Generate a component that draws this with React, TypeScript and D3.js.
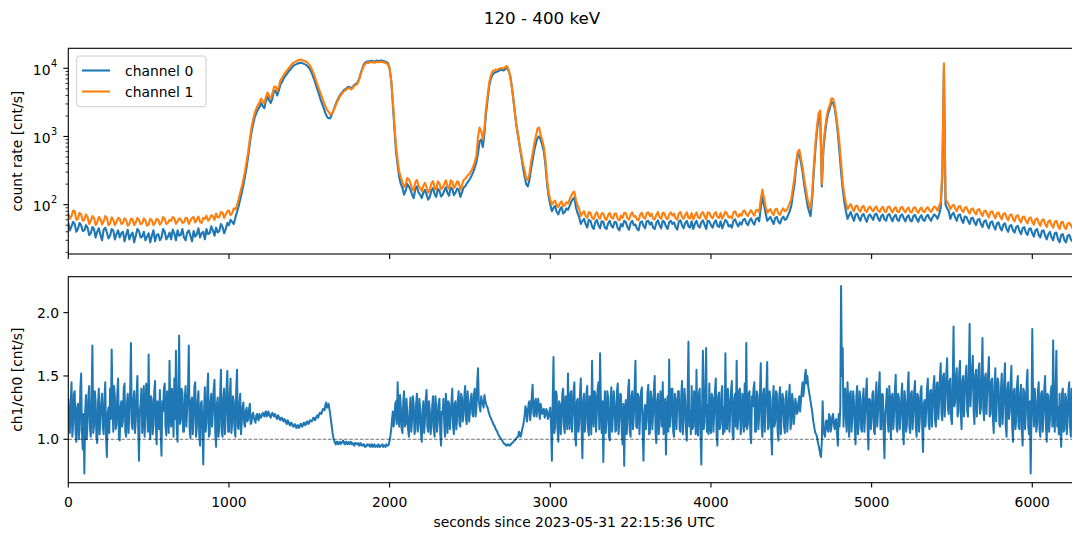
import React from 'react';
import * as d3 from 'd3';

const TITLE = '120 - 400 keV';
const X_LABEL = 'seconds since 2023-05-31 22:15:36 UTC';
const Y1_LABEL = 'count rate [cnt/s]';
const Y2_LABEL = 'ch1/ch0 [cnt/s]';
const SERIES_NAMES = ['channel 0', 'channel 1'];

// rate samples: main series at t = 0, 20, 40, ...; *_MID series at t = 10, 30, 50, ...
const RATE_STEP = 20;
// ratio samples: main at t = 0, 10, 20, ...; RATIO_MID at t = 5, 15, 25, ...
const RATIO_STEP = 10;

const X_TICKS = [0, 1000, 2000, 3000, 4000, 5000, 6000];
const RATE_TICKS = [100, 1000, 10000];
const RATE_TICK_EXP = ['2', '3', '4'];
const RATIO_TICKS = [1.0, 1.5, 2.0];

const CH0 = [
  55, 48, 52, 44, 50, 42, 46, 38, 44, 40,
  36, 43, 39, 35, 42, 37, 33, 40, 36, 31,
  39, 35, 41, 34, 30, 38, 35, 29, 37, 33,
  40, 34, 31, 38, 42, 36, 33, 39, 35, 41,
  37, 33, 40, 44, 38, 42, 46, 41, 47, 44,
  50,
  56, 65, 95, 150, 260, 520, 1150, 1900, 2500, 3100,
  2600, 3800, 3100, 4600, 4000, 5800, 7000, 8200, 9500, 10800,
  11500, 12000, 11800, 11200, 10000, 8000, 5800, 4200, 3000, 2200,
  1850, 2100, 2800, 3600, 4300, 4900, 5300, 5100, 5700, 6200,
  8400, 11500, 12600, 12800, 12700, 13000, 12900, 12800, 12400, 10000,
  3000, 600, 250, 175, 160, 185, 140, 170, 150, 125,
  165, 118, 160, 142, 172, 132, 160, 148, 178, 138,
  172, 130, 178, 205, 240, 300, 420, 850, 700, 2200,
  5500, 8000, 8800, 9200, 9400, 9800, 9200, 5500, 2200, 1000,
  500, 260, 185, 330, 620, 950, 900, 600, 200, 100,
  90, 78, 85, 74, 88, 95, 120, 90, 65, 58,
  52, 60, 48, 55, 50, 57, 46, 53, 49, 56,
  45, 52, 58, 47, 54, 50, 44, 55, 49, 57,
  51, 46, 54, 50, 58, 48, 55, 52, 47, 56,
  50, 54, 48, 57, 52, 49, 55, 51, 58, 50,
  54, 49, 57, 52, 56, 50, 58, 53, 55, 60,
  54, 58, 55, 61, 57, 130, 75, 62, 58, 64,
  56, 62, 60, 70, 95,
  200, 520, 420, 200, 100, 68, 300, 1200, 2100, 650,
  1700, 2600, 3100, 1800, 600, 170, 80, 70, 66, 72,
  64, 70, 63, 68, 65,
  72, 63, 68, 61, 70, 64, 67, 60, 69, 63,
  66, 59, 68, 62, 65, 60, 67, 63, 66, 68,
  72, 250,
  100, 80, 72, 65, 70, 60, 67, 58, 63, 55,
  60, 52, 57, 50, 55, 48, 53, 46, 51, 44,
  49, 42, 47, 41, 45, 39, 44, 38, 42, 36,
  41, 35, 37, 33, 38, 31, 36, 30, 35, 31,
  34,
];

const CH0_MID = [
  42, 56, 40, 54, 41, 50, 36, 47, 33, 45,
  30, 46, 32, 44, 31, 42, 38, 29, 43, 36,
  28, 44, 33, 40, 34, 28, 42, 36, 30, 44,
  31, 39, 43, 30, 35, 44, 30, 42, 29, 34,
  45, 38, 31, 37, 48, 35, 39, 52, 38, 54,
  60, 52, 78, 120, 195, 360, 800, 1500, 2200, 2700,
  2800, 3300, 3400, 3600, 4700, 4700, 6300, 7700, 8900, 10200,
  11200, 11800, 12100, 11500, 10700, 9100, 6900, 4900, 3500, 2600,
  1950, 1850, 2400, 3200, 4000, 4600, 5000, 5300, 5300, 5900,
  7000, 10000, 12200, 12500, 12900, 12600, 12800, 13000, 12600, 11800,
  6500, 1300, 380, 200, 140, 200, 165, 125, 185, 140,
  150, 140, 130, 175, 130, 160, 140, 180, 135, 170,
  150, 165, 150, 185, 220, 265, 350, 560, 900, 1100,
  3500, 7000, 8500, 8900, 9500, 9300, 10200, 7800, 3600, 1400,
  700, 350, 200, 230, 450, 780, 1000, 750, 380, 130,
  80, 96, 72, 92, 78, 84, 110, 128, 75, 52,
  62, 46, 58, 44, 60, 45, 56, 44, 58, 46,
  55, 42, 48, 56, 43, 58, 51, 42, 57, 45,
  58, 55, 44, 59, 45, 56, 44, 58, 55, 43,
  59, 45, 58, 46, 44, 58, 46, 59, 44, 57,
  46, 59, 47, 45, 60, 48, 46, 61, 48, 51,
  62, 50, 63, 51, 64, 90, 100, 58, 66, 52,
  66, 53, 67, 62, 80,
  140, 350, 560, 300, 140, 80, 120, 650, 1900, 185,
  1100, 2200, 3200, 2600, 1100, 300, 110, 62, 78, 58,
  74, 58, 73, 56, 72,
  60, 74, 58, 72, 58, 73, 57, 71, 58, 72,
  57, 70, 57, 71, 56, 70, 58, 71, 58, 72,
  62, 90, 10500,
  88, 62, 76, 58, 72, 54, 66, 52, 64, 50,
  62, 47, 59, 45, 57, 43, 55, 42, 53, 40,
  50, 39, 49, 37, 47, 36, 45, 34, 44, 33,
  42, 31, 40, 30, 39, 28, 37, 28, 36, 29,
];

const CH1 = [
  75, 68, 80, 62, 72, 60, 66, 58, 64, 55,
  62, 57, 64, 53, 60, 56, 62, 54, 59, 52,
  61, 55, 60, 53, 58, 51, 59, 54, 60, 55,
  62, 54, 58, 63, 57, 61, 55, 63, 58, 66,
  60, 56, 64, 69, 62, 68, 74, 66, 76, 72,
  82,
  75, 85, 120, 185, 310, 610, 1340, 2200, 2900, 3600,
  3050, 4400, 3600, 5300, 4600, 6600, 7900, 9200, 10600, 12000,
  12700, 13300, 13100, 12500, 11300, 9200, 6800, 5000, 3700, 2800,
  2300, 2150, 2700, 3450, 4150, 4700, 5100, 4900, 5500, 5950,
  8100, 11000, 12100, 12300, 12200, 12500, 12400, 12300, 11900, 9700,
  3300, 700, 300, 215, 200, 235, 172, 215, 188, 158,
  208, 150, 205, 178, 220, 168, 200, 186, 228, 175,
  220, 165, 228, 255, 290, 360, 520, 1350, 900, 2600,
  6200, 9000, 9600, 9800, 10000, 10500, 9400, 5400, 2150, 1050,
  540, 320, 230, 420, 780, 1300, 1050, 700, 230, 118,
  110, 98, 105, 95, 108, 118, 150, 115, 85, 75,
  68, 78, 64, 72, 66, 75, 62, 70, 65, 74,
  61, 69, 76, 63, 71, 67, 60, 72, 65, 75,
  68, 62, 71, 66, 76, 64, 72, 69, 63, 74,
  66, 71, 64, 75, 69, 65, 73, 68, 77, 67,
  72, 66, 75, 70, 74, 67, 77, 71, 73, 80,
  72, 77, 74, 82, 78, 166, 95, 82, 76, 85,
  74, 82, 80, 92, 120,
  250, 600, 480, 240, 125, 88, 360, 1400, 2400, 760,
  1950, 2900, 3600, 2000, 800, 210, 105, 95, 88, 95,
  84, 92, 82, 90, 85,
  90, 82, 88, 80, 92, 84, 87, 79, 90, 83,
  86, 78, 89, 82, 85, 80, 88, 83, 86, 90,
  95, 320,
  120, 100, 95, 88, 93, 84, 90, 81, 86, 78,
  84, 75, 80, 72, 78, 70, 75, 67, 73, 65,
  70, 62, 68, 60, 66, 58, 63, 56, 61, 54,
  59, 52, 57, 50, 56, 49, 55, 47, 53, 50,
  52,
];

const CH1_MID = [
  62, 82, 60, 76, 58, 72, 52, 68, 50, 66,
  51, 68, 50, 65, 50, 64, 52, 63, 49, 62,
  50, 64, 52, 63, 49, 62, 50, 62, 51, 66,
  52, 60, 66, 52, 63, 54, 64, 52, 64, 55,
  67, 54, 62, 58, 70, 60, 65, 78, 64, 80,
  70, 88, 98, 150, 235, 430, 930, 1750, 2550, 3150,
  3250, 3800, 3950, 4200, 5400, 5400, 7200, 8600, 9900, 11400,
  12400, 13100, 13400, 12800, 12000, 10300, 8000, 5800, 4300, 3200,
  2450, 2100, 2350, 3100, 3850, 4450, 4850, 5100, 5100, 5700,
  6800, 9600, 11700, 12000, 12400, 12100, 12300, 12500, 12100, 11300,
  6600, 1500, 450, 250, 180, 245, 205, 160, 230, 175,
  190, 180, 165, 222, 165, 205, 178, 228, 170, 218,
  190, 212, 192, 240, 275, 320, 420, 1000, 1200, 1300,
  4000, 7800, 9300, 9500, 10000, 9900, 10800, 7800, 3500, 1400,
  720, 400, 240, 280, 560, 1000, 1350, 880, 450, 150,
  100, 115, 92, 112, 98, 104, 135, 155, 98, 68,
  80, 64, 76, 61, 78, 62, 75, 60, 76, 62,
  74, 59, 64, 75, 60, 77, 68, 59, 76, 62,
  77, 74, 61, 78, 62, 75, 61, 77, 74, 60,
  78, 62, 77, 63, 61, 77, 63, 78, 61, 76,
  63, 78, 64, 62, 79, 65, 63, 80, 66, 69,
  82, 68, 83, 69, 84, 120, 125, 76, 86, 70,
  87, 71, 88, 82, 105,
  175, 420, 640, 360, 175, 100, 145, 780, 2200, 200,
  1300, 2500, 3600, 2900, 1300, 420, 140, 86, 102, 80,
  97, 79, 96, 78, 94,
  80, 94, 78, 93, 78, 94, 77, 92, 78, 93,
  77, 91, 77, 92, 76, 91, 78, 92, 78, 94,
  82, 110, 11800,
  110, 86, 100, 80, 96, 78, 92, 74, 88, 72,
  86, 68, 82, 65, 80, 63, 77, 61, 75, 59,
  72, 57, 70, 55, 67, 53, 65, 51, 63, 49,
  61, 47, 59, 46, 58, 44, 56, 44, 54, 45,
];

const RATIO = [
  1.32, 1.05, 1.45, 1.12, 1.38, 0.98, 1.28, 1.08, 1.52, 0.92, 0.73, 1.35, 1.15, 1.42, 1.02, 1.74, 1.10, 1.30, 0.97, 1.40,
  1.18, 1.36, 1.04, 1.45, 0.86, 1.25, 1.40, 1.71, 1.06, 1.33, 1.12, 1.48, 0.99, 1.30, 1.15, 1.44, 1.02, 1.36, 1.20, 1.76,
  1.08, 1.38, 1.14, 1.50, 0.83, 1.28, 1.05, 1.42, 1.18, 1.35, 1.67, 1.00, 1.31, 1.12, 1.46, 0.96, 1.25, 1.39, 0.87, 1.22,
  1.44, 1.03, 1.34, 1.62, 1.10, 1.28, 1.48, 1.70, 0.98, 1.82, 1.15, 1.37, 1.06, 1.42, 1.24, 1.74, 1.01, 1.33, 1.16, 1.45,
  1.09, 1.38, 0.95, 1.30, 0.80, 1.41, 1.13, 1.52, 1.04, 1.36, 1.22, 1.47, 0.94, 1.33, 1.10, 1.55, 1.02, 1.40, 1.18, 1.54,
  1.06, 1.48, 1.12, 1.30, 1.02, 1.55, 1.08, 1.36, 1.14, 1.29, 1.10, 1.25, 1.16, 1.28, 1.13, 1.21, 1.15, 1.19, 1.16, 1.20,
  1.17, 1.21, 1.18, 1.22, 1.19, 1.20, 1.17, 1.21, 1.18, 1.19, 1.16, 1.18, 1.15, 1.17, 1.14, 1.15, 1.12, 1.14, 1.11, 1.13,
  1.10, 1.12, 1.09, 1.11, 1.10, 1.12, 1.11, 1.13, 1.12, 1.14, 1.13, 1.15, 1.15, 1.17, 1.16, 1.19, 1.19, 1.21, 1.22, 1.24,
  1.27, 1.25, 1.28, 1.20, 1.10, 1.01, 0.97, 0.98, 0.96, 0.98, 0.97, 0.99, 0.96, 0.98, 0.97, 0.96, 0.98, 0.97, 0.95, 0.97,
  0.96, 0.95, 0.97, 0.95, 0.96, 0.94, 0.96, 0.95, 0.94, 0.96, 0.95, 0.94, 0.95, 0.96, 0.94, 0.95, 0.94, 0.95, 0.96, 0.95,
  0.99, 1.08, 1.22, 1.15, 1.30, 1.45, 1.10, 1.25, 1.05, 1.38, 1.12, 1.20, 1.02, 1.33, 1.16, 1.27, 1.08, 1.36, 1.12, 1.24,
  0.98, 1.30, 1.15, 1.39, 1.06, 1.22, 1.10, 1.34, 1.02, 1.26, 1.14, 1.32, 0.95, 1.20, 1.12, 1.36, 1.05, 1.28, 1.17, 1.40,
  1.04, 1.30, 1.16, 1.38, 1.10, 1.33, 1.20, 1.42, 1.12, 1.29, 1.22, 1.36, 1.18, 1.40, 1.24, 1.56, 1.26, 1.34, 1.28, 1.35,
  1.28, 1.25, 1.20, 1.17, 1.14, 1.11, 1.08, 1.06, 1.03, 1.01, 0.99, 0.97, 0.96, 0.95, 0.96, 0.95, 0.97, 0.98, 0.99, 1.01,
  1.02, 1.05, 1.04, 1.10, 1.18, 1.24, 1.20, 1.30, 1.22, 1.43, 1.18, 1.32, 1.25, 1.22, 1.28, 1.20, 1.24, 1.19, 1.22, 1.18,
  1.25, 0.83, 1.65, 1.10, 1.35, 0.98, 1.28, 1.15, 1.40, 1.05, 1.30, 1.52, 1.08, 1.38, 1.20, 1.45, 0.95, 1.32, 1.12, 1.48,
  0.85, 1.36, 1.14, 1.42, 1.03, 1.30, 1.62, 1.10, 1.36, 1.22, 1.45, 1.68, 1.05, 0.82, 1.38, 1.15, 1.33, 0.99, 1.41, 1.20,
  1.28, 1.07, 1.44, 1.16, 1.35, 0.96, 0.79, 1.31, 1.12, 1.47, 1.02, 1.38, 1.18, 1.62, 1.09, 1.34, 1.22, 1.41, 0.83, 1.27,
  1.15, 1.43, 1.05, 1.32, 1.20, 1.50, 0.97, 1.36, 1.12, 1.29, 1.45, 1.08, 0.88, 1.34, 1.63, 1.18, 1.40, 1.02, 1.31, 1.24,
  1.38, 1.06, 1.46, 1.17, 1.30, 0.99, 1.77, 1.22, 1.42, 1.10, 1.35, 1.55, 1.03, 1.40, 0.80, 1.70, 1.14, 1.72, 1.27, 1.44,
  1.05, 1.33, 1.19, 1.48, 0.95, 1.37, 1.12, 1.42, 1.25, 1.68, 1.08, 1.31, 1.20, 1.46, 1.00, 1.36, 1.62, 1.15, 1.40, 1.09,
  1.30, 1.44, 1.76, 1.12, 1.38, 0.97, 1.26, 1.45, 1.06, 1.35, 1.18, 1.60, 1.02, 1.40, 1.24, 1.61, 1.10, 1.33, 0.88, 1.42,
  1.14, 1.36, 0.99, 1.41, 1.20, 1.32, 1.05, 1.38, 1.16, 1.43, 1.12, 1.30, 1.18, 1.28, 1.22, 1.34, 1.30, 1.45, 1.40, 1.55,
  1.50, 1.38, 1.30, 1.22, 1.12, 1.05, 1.02, 0.95, 0.88, 0.98, 1.10, 1.02, 1.15, 1.06, 1.18, 1.10, 1.20, 1.08, 1.16, 0.95,
  1.10, 2.21, 1.72, 1.35, 1.15, 1.45, 1.02, 1.38, 1.18, 1.30, 0.96, 1.42, 1.12, 1.33, 1.06, 1.40, 1.20, 1.48, 0.92, 1.31,
  1.16, 1.38, 1.04, 1.45, 1.22, 1.53, 1.08, 1.35, 0.85, 1.28, 1.14, 1.42, 1.00, 1.36, 1.20, 1.51, 1.06, 1.32, 1.18, 1.44,
  0.96, 1.30, 1.12, 1.53, 1.05, 1.38, 1.20, 1.46, 1.02, 1.34, 1.16, 1.42, 0.90, 1.31, 1.22, 1.48, 1.08, 1.39, 1.25, 1.50,
  1.10, 1.45, 1.28, 1.60, 1.15, 1.52, 1.34, 1.64, 1.20, 1.48, 1.12, 1.89, 1.30, 1.56, 1.22, 1.62, 1.08, 1.50, 1.36, 1.58,
  1.18, 1.91, 1.40, 1.66, 1.12, 1.55, 1.30, 1.60, 1.24, 1.80, 1.15, 1.52, 1.38, 1.65, 1.20, 1.48, 1.05, 1.56, 1.32, 1.44,
  1.10, 1.52, 1.26, 1.60, 1.02, 1.45, 1.22, 1.58, 0.98, 1.40, 1.15, 1.50, 1.08, 1.43, 0.95, 1.37, 1.20, 1.55, 1.04, 0.73,
  1.87, 1.10, 1.30, 1.12, 1.45, 1.02, 1.38, 1.20, 1.50, 0.98, 1.34, 1.16, 1.42, 1.78, 1.06, 1.70, 1.25, 1.36, 0.94, 1.40,
  1.08, 1.33, 1.15, 1.45, 1.02, 1.28,
];

const RATIO_MID = [
  1.10, 1.30, 1.02, 1.36, 1.06, 1.25, 1.00, 1.40, 1.05, 1.20, 1.22, 1.00, 1.34, 1.08, 1.30, 1.05, 1.38, 1.02, 1.28, 1.04,
  1.28, 1.10, 1.32, 1.02, 1.20, 1.05, 1.16, 1.30, 1.42, 1.08, 1.36, 1.02, 1.26, 1.10, 1.40, 1.06, 1.28, 1.05, 1.38, 1.12,
  1.30, 1.05, 1.36, 1.10, 1.22, 1.40, 1.18, 1.02, 1.44, 1.06, 1.12, 1.34, 1.04, 1.38, 1.10, 1.30, 1.08, 1.06, 1.30, 1.40,
  1.10, 1.38, 1.05, 1.20, 1.40, 1.02, 1.16, 1.08, 1.36, 1.12, 1.40, 1.06, 1.32, 1.10, 1.38, 1.08, 1.30, 1.04, 1.42, 1.02,
  1.30, 1.04, 1.28, 1.08, 1.22, 1.06, 1.38, 1.02, 1.30, 1.10, 1.40, 1.04, 1.28, 1.02, 1.34, 1.06, 1.32, 1.04, 1.40, 1.06,
  1.36, 1.05, 1.34, 1.08, 1.38, 1.10, 1.28, 1.04, 1.26, 1.12, 1.22, 1.14, 1.24, 1.12, 1.19, 1.17, 1.13, 1.20, 1.15, 1.18,
  1.19, 1.20, 1.21, 1.18, 1.22, 1.18, 1.20, 1.19, 1.20, 1.17, 1.19, 1.16, 1.17, 1.15, 1.16, 1.13, 1.15, 1.12, 1.13, 1.11,
  1.11, 1.10, 1.11, 1.09, 1.12, 1.10, 1.13, 1.11, 1.14, 1.12, 1.15, 1.14, 1.17, 1.15, 1.18, 1.17, 1.21, 1.20, 1.24, 1.23,
  1.29, 1.26, 1.24, 1.15, 1.05, 0.99, 0.96, 0.98, 0.97, 0.96, 0.98, 0.97, 0.98, 0.96, 0.98, 0.97, 0.96, 0.96, 0.97, 0.96,
  0.97, 0.96, 0.95, 0.96, 0.94, 0.95, 0.95, 0.96, 0.95, 0.94, 0.96, 0.95, 0.94, 0.95, 0.95, 0.96, 0.95, 0.94, 0.95, 0.96,
  1.03, 1.16, 1.10, 1.28, 1.12, 1.20, 1.35, 1.08, 1.30, 1.10, 1.32, 1.08, 1.24, 1.06, 1.34, 1.04, 1.28, 1.06, 1.32, 1.05,
  1.22, 1.05, 1.32, 1.10, 1.30, 1.04, 1.26, 1.08, 1.34, 1.06, 1.28, 1.05, 1.22, 1.32, 1.02, 1.24, 1.30, 1.08, 1.30, 1.10,
  1.28, 1.08, 1.32, 1.12, 1.36, 1.14, 1.34, 1.16, 1.38, 1.14, 1.32, 1.20, 1.36, 1.18, 1.44, 1.30, 1.22, 1.30, 1.25, 1.31,
  1.26, 1.22, 1.18, 1.15, 1.12, 1.10, 1.07, 1.04, 1.02, 1.00, 0.98, 0.96, 0.95, 0.96, 0.95, 0.96, 0.97, 0.99, 1.00, 1.02,
  1.06, 1.02, 1.08, 1.14, 1.26, 1.14, 1.28, 1.15, 1.34, 1.20, 1.30, 1.18, 1.32, 1.16, 1.24, 1.22, 1.17, 1.24, 1.16, 1.22,
  1.10, 1.30, 1.05, 1.38, 1.08, 1.30, 1.04, 1.36, 1.10, 1.34, 1.08, 1.20, 1.36, 1.06, 1.38, 1.02, 1.30, 1.06, 1.36, 1.08,
  1.30, 1.06, 1.36, 1.08, 1.34, 1.04, 1.20, 1.38, 1.06, 1.40, 1.08, 1.26, 1.30, 1.20, 1.05, 1.38, 1.02, 1.30, 1.06, 1.38,
  1.06, 1.38, 1.04, 1.36, 1.06, 1.28, 1.20, 1.04, 1.40, 1.06, 1.34, 1.08, 1.40, 1.10, 1.36, 1.04, 1.38, 1.06, 1.20, 1.08,
  1.36, 1.04, 1.38, 1.08, 1.40, 1.06, 1.30, 1.04, 1.38, 1.10, 1.04, 1.32, 1.20, 1.06, 1.10, 1.40, 1.06, 1.36, 1.08, 1.38,
  1.08, 1.34, 1.04, 1.40, 1.06, 1.36, 1.10, 1.04, 1.08, 1.38, 1.04, 1.10, 1.36, 1.06, 1.26, 1.08, 1.40, 1.06, 1.04, 1.10,
  1.36, 1.06, 1.38, 1.04, 1.34, 1.08, 1.36, 1.04, 1.06, 1.10, 1.40, 1.06, 1.38, 1.04, 1.32, 1.10, 1.08, 1.38, 1.04, 1.36,
  1.06, 1.10, 1.08, 1.36, 1.04, 1.34, 1.40, 1.06, 1.38, 1.08, 1.36, 1.10, 1.36, 1.06, 1.40, 1.08, 1.38, 1.04, 1.30, 1.10,
  1.38, 1.06, 1.34, 1.04, 1.36, 1.10, 1.32, 1.06, 1.34, 1.08, 1.36, 1.12, 1.32, 1.20, 1.30, 1.22, 1.38, 1.34, 1.50, 1.44,
  1.42, 1.34, 1.26, 1.16, 1.08, 1.04, 0.98, 0.92, 0.86, 1.30, 1.04, 1.14, 1.08, 1.20, 1.06, 1.18, 1.12, 1.14, 1.04, 1.20,
  1.25, 1.50, 1.10, 1.40, 1.06, 1.28, 1.36, 1.06, 1.38, 1.10, 1.34, 1.04, 1.38, 1.08, 1.32, 1.06, 1.36, 1.10, 1.32, 1.08,
  1.36, 1.06, 1.34, 1.10, 1.38, 1.08, 1.36, 1.04, 1.20, 1.40, 1.06, 1.30, 1.34, 1.08, 1.38, 1.10, 1.36, 1.08, 1.34, 1.06,
  1.38, 1.06, 1.40, 1.10, 1.36, 1.08, 1.38, 1.10, 1.36, 1.06, 1.38, 1.08, 1.28, 1.10, 1.40, 1.12, 1.38, 1.10, 1.42, 1.14,
  1.44, 1.16, 1.48, 1.20, 1.50, 1.18, 1.52, 1.24, 1.46, 1.16, 1.44, 1.26, 1.50, 1.18, 1.52, 1.20, 1.46, 1.18, 1.50, 1.22,
  1.52, 1.26, 1.56, 1.22, 1.50, 1.18, 1.54, 1.20, 1.50, 1.24, 1.48, 1.20, 1.52, 1.18, 1.46, 1.16, 1.42, 1.14, 1.48, 1.12,
  1.40, 1.12, 1.46, 1.10, 1.40, 1.16, 1.44, 1.10, 1.38, 1.08, 1.42, 1.10, 1.36, 1.06, 1.40, 1.08, 1.44, 1.10, 1.30, 1.20,
  1.30, 1.40, 1.06, 1.38, 1.08, 1.36, 1.06, 1.40, 1.10, 1.36, 1.06, 1.38, 1.10, 1.20, 1.38, 1.10, 1.04, 1.08, 1.36, 1.06,
  1.36, 1.04, 1.38, 1.10, 1.40,
];

// Merge a main series sampled at t = i*step with a mid series sampled at t = i*step + step/2
function mergeSamples(main: number[], mid: number[], step: number): [number, number][] {
  const out: [number, number][] = [];
  for (let i = 0; i < main.length; i++) {
    out.push([i * step, main[i]]);
    if (i < mid.length) out.push([i * step + step / 2, mid[i]]);
  }
  return out;
}

const C0 = '#1f77b4';
const C1 = '#ff7f0e';
const FONT = 'DejaVu Sans, sans-serif';

export default function App() {
  const W = 1072;
  const H = 534;
  const left = 68.3;
  const right = 1080;
  const top1 = 48.3;
  const bot1 = 254;
  const top2 = 276.7;
  const bot2 = 482.7;

  const x = d3.scaleLinear().domain([0, 6297]).range([left, right]);
  const y1 = d3.scaleLog().domain([18.9, 19630]).range([bot1, top1]);
  const y2 = d3.scaleLinear().domain([0.657, 2.284]).range([bot2, top2]);

  const ch0 = mergeSamples(CH0, CH0_MID, RATE_STEP);
  const ch1 = mergeSamples(CH1, CH1_MID, RATE_STEP);
  const ratio = mergeSamples(RATIO, RATIO_MID, RATIO_STEP);

  const rateLine = d3
    .line<[number, number]>()
    .x((d) => x(d[0]))
    .y((d) => y1(d[1]));
  const ratioLine = d3
    .line<[number, number]>()
    .x((d) => x(d[0]))
    .y((d) => y2(d[1]));

  const minorTicks: number[] = [];
  for (let k = 1; k <= 4; k++) {
    for (let m = 2; m <= 9; m++) {
      const v = m * Math.pow(10, k);
      if (v >= 18.9 && v <= 19630) minorTicks.push(v);
    }
  }

  const tickLen = 4.9;
  const tickW = 1.1;
  const fs = 13.9;

  return (
    <div style={{ position: 'absolute', left: 0, top: 0 }}>
      <svg width={W} height={H} style={{ display: 'block', background: '#fff' }} fontFamily={FONT}>
        <defs>
          <clipPath id="clip1">
            <rect x={left} y={top1} width={right - left} height={bot1 - top1} />
          </clipPath>
          <clipPath id="clip2">
            <rect x={left} y={top2} width={right - left} height={bot2 - top2} />
          </clipPath>
        </defs>
        <rect x={0} y={0} width={W} height={H} fill="#fff" />

        <text x={542} y={24} fontSize={16.7} textAnchor="middle" fill="#000">
          {TITLE}
        </text>

        <g clipPath="url(#clip1)">
          <path d={rateLine(ch0) || ''} fill="none" stroke={C0} strokeWidth={2.1} strokeLinejoin="round" />
          <path d={rateLine(ch1) || ''} fill="none" stroke={C1} strokeWidth={2.1} strokeLinejoin="round" />
        </g>

        <g clipPath="url(#clip2)">
          <path d={ratioLine(ratio) || ''} fill="none" stroke={C0} strokeWidth={2} strokeLinejoin="round" />
          <line
            x1={left}
            x2={right}
            y1={y2(1.0)}
            y2={y2(1.0)}
            stroke="#000"
            strokeOpacity={0.55}
            strokeWidth={1}
            strokeDasharray="3.7,1.6"
          />
        </g>

        <rect x={left} y={top1} width={right - left} height={bot1 - top1} fill="none" stroke="#000" strokeWidth={tickW} />
        <rect x={left} y={top2} width={right - left} height={bot2 - top2} fill="none" stroke="#000" strokeWidth={tickW} />

        {X_TICKS.map((t) => (
          <g key={'xt' + t}>
            <line x1={x(t)} x2={x(t)} y1={bot1} y2={bot1 + tickLen} stroke="#000" strokeWidth={tickW} />
            <line x1={x(t)} x2={x(t)} y1={bot2} y2={bot2 + tickLen} stroke="#000" strokeWidth={tickW} />
            <text x={x(t)} y={507} fontSize={fs} textAnchor="middle" fill="#000">
              {t}
            </text>
          </g>
        ))}

        {minorTicks.map((v) => (
          <line key={'mt' + v} x1={left - 2.8} x2={left} y1={y1(v)} y2={y1(v)} stroke="#000" strokeWidth={0.8} />
        ))}
        {RATE_TICKS.map((v, i) => (
          <g key={'rt' + v}>
            <line x1={left - tickLen} x2={left} y1={y1(v)} y2={y1(v)} stroke="#000" strokeWidth={tickW} />
            <text x={50.5} y={y1(v) + 6.7} fontSize={fs} textAnchor="end" fill="#000">
              10
            </text>
            <text x={51} y={y1(v) - 1.6} fontSize={9.7} textAnchor="start" fill="#000">
              {RATE_TICK_EXP[i]}
            </text>
          </g>
        ))}

        {RATIO_TICKS.map((v) => (
          <g key={'qt' + v}>
            <line x1={left - tickLen} x2={left} y1={y2(v)} y2={y2(v)} stroke="#000" strokeWidth={tickW} />
            <text x={59} y={y2(v) + 5.1} fontSize={fs} textAnchor="end" fill="#000">
              {v.toFixed(1)}
            </text>
          </g>
        ))}

        <text x={574} y={527} fontSize={fs} textAnchor="middle" fill="#000">
          {X_LABEL}
        </text>
        <text transform={`translate(22,${(top1 + bot1) / 2}) rotate(-90)`} fontSize={fs} textAnchor="middle" fill="#000">
          {Y1_LABEL}
        </text>
        <text transform={`translate(22,${(top2 + bot2) / 2}) rotate(-90)`} fontSize={fs} textAnchor="middle" fill="#000">
          {Y2_LABEL}
        </text>

        <g>
          <rect x={76.7} y={56} width={129.3} height={50.7} rx={2.8} fill="#fff" fillOpacity={0.8} stroke="#cccccc" strokeWidth={1} />
          <line x1={82} x2={110} y1={70.5} y2={70.5} stroke={C0} strokeWidth={2.1} />
          <text x={125} y={75.5} fontSize={fs} fill="#000">
            {SERIES_NAMES[0]}
          </text>
          <line x1={82} x2={110} y1={91.5} y2={91.5} stroke={C1} strokeWidth={2.1} />
          <text x={125} y={96.5} fontSize={fs} fill="#000">
            {SERIES_NAMES[1]}
          </text>
        </g>
      </svg>
    </div>
  );
}
